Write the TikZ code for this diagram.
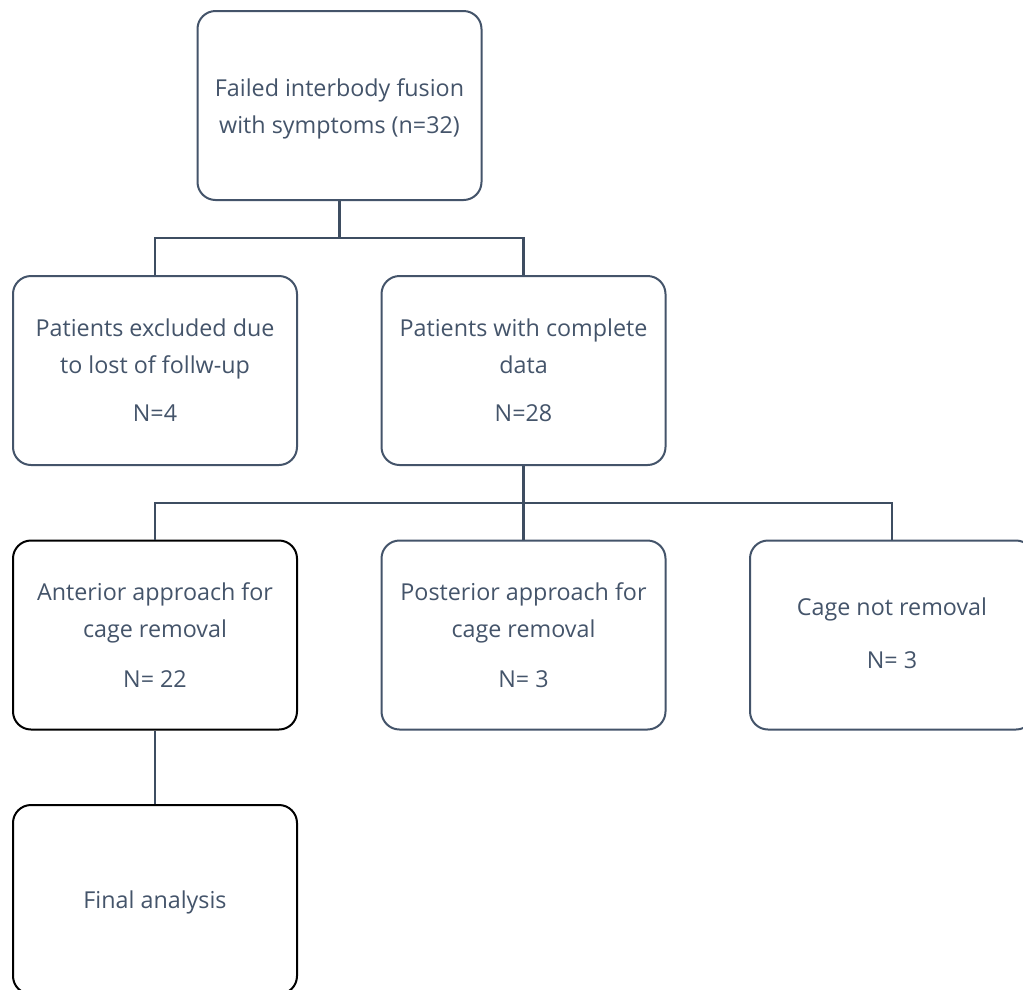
\documentclass[tikz,border=0pt]{standalone}
\usepackage{fontspec}
\setmainfont{Open Sans}
\definecolor{slate}{HTML}{44546A}
\definecolor{lineclr}{HTML}{3E4D61}
\begin{document}
\begin{tikzpicture}[x=1pt,y=-1pt,
  txt/.style={align=center, text=slate, font=\fontsize{23.3}{37}\selectfont, inner sep=0pt},
  box/.style={txt, draw=slate, line width=2pt, rounded corners=18pt, minimum width=284pt, minimum height=189pt},
  blk/.style={box, draw=black},
  conn/.style={draw=lineclr, line width=2.2pt}]
\useasboundingbox (0,0) rectangle (1023,989);
\clip (0,0) rectangle (1023,989);
\fill[white] (0,0) rectangle (1023,989);
\node[box] (top) at (339.5,105.5) {};
\node[txt] (toptext) at ([yshift=-3.5pt]top.center) {Failed interbody fusion\\with symptoms (n=32)};
\node[box] (excl) at (155,370.5) {Patients excluded due\\to lost of follw-up\\[11pt]N=4};
\node[box] (data) at (523.5,370.5) {Patients with complete\\data\\[11pt]N=28};
\node[blk] (ant) at (155,635) {Anterior approach for\\cage removal\\[13pt]N= 22};
\node[box] (post) at (523.5,635) {Posterior approach for\\cage removal\\[13pt]N= 3};
\node[box] (cage) at (892,635) {};
\node[txt] (cagetext) at ([yshift=1.5pt]cage.center) {Cage not removal\\[16pt]N= 3};
\node[blk] (final) at (155,899.5) {};
\node[txt] (finaltext) at ([yshift=-3pt]final.center) {Final analysis};
\coordinate (j1) at (339.5,238);
\coordinate (j2) at (523.5,503);
\draw[conn] (top.south) -- (j1);
\draw[conn] (excl.north) |- (j1) -| (data.north);
\draw[conn] (data.south) -- (post.north);
\draw[conn] (ant.north) |- (j2) -| (cage.north);
\draw[conn] (ant.south) -- (final.north);
\end{tikzpicture}
\end{document}
